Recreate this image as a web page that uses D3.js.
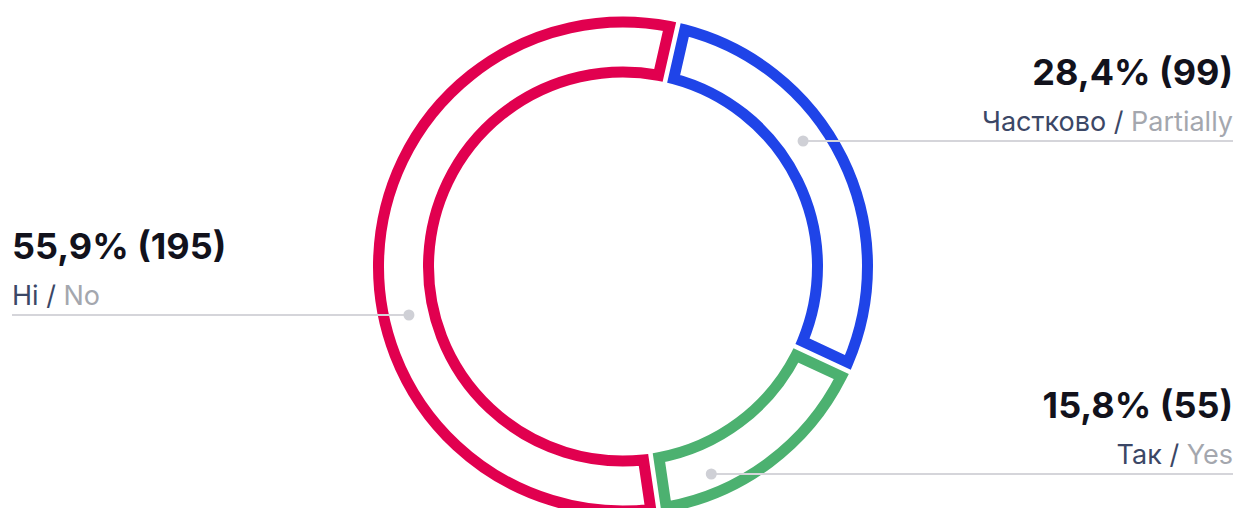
<!DOCTYPE html>
<html>
<head>
<meta charset="utf-8">
<script src="https://cdn.jsdelivr.net/npm/d3@7"></script>
<style>
  html, body { margin: 0; padding: 0; background: #fff; }
  svg { display: block; font-family: Inter, "Noto Sans", sans-serif; }
</style>
</head>
<body>
<div id="chart"></div>
<script>
// answers, in drawing order (clockwise from the top gap)
const labelsUa = ["Частково", "Так", "Hi"];
const labelsEn = ["Partially", "Yes", "No"];
const counts = [99, 55, 195];
const percents = ["28,4%", "15,8%", "55,9%"];
const colors = ["#1f44e8", "#4cb170", "#e1004f"];

const width = 1237, height = 508;
const cx = 623, cy = 266.5;
const rOuter = 244.5, rInner = 194.5;
const rMid = (rOuter + rInner) / 2;

// where each callout line sits, and on which side
const lineY = [141, 474, 315];
const side = ["right", "right", "left"];

const svg = d3.select("#chart").append("svg")
  .attr("width", width)
  .attr("height", height)
  .attr("viewBox", [0, 0, width, height]);

const data = counts.map((c, i) => ({
  count: c, pct: percents[i], ua: labelsUa[i], en: labelsEn[i], color: colors[i],
  y: lineY[i], side: side[i]
}));

const pie = d3.pie()
  .sort(null)
  .value(d => d.count)
  .startAngle(12.8 * Math.PI / 180)
  .endAngle(12.8 * Math.PI / 180 + 2 * Math.PI);

const arc = d3.arc()
  .innerRadius(rInner)
  .outerRadius(rOuter)
  .padAngle(0.05);

const g = svg.append("g")
  .attr("transform", `translate(${cx},${cy})`);

g.selectAll("path")
  .data(pie(data))
  .join("path")
    .attr("d", arc)
    .attr("fill", "none")
    .attr("stroke", d => d.data.color)
    .attr("stroke-width", 11);

// callouts
const callout = svg.append("g")
  .selectAll("g")
  .data(data)
  .join("g");

const dotX = d => {
  const dy = d.y - cy;
  const r = d.y > 450 ? rMid + 6 : rMid;
  const dx = Math.sqrt(Math.max(0, r * r - dy * dy));
  return d.side === "right" ? cx + dx : cx - dx;
};

callout.append("line")
  .attr("x1", d => d.side === "right" ? dotX(d) : 12)
  .attr("x2", d => d.side === "right" ? 1233 : dotX(d))
  .attr("y1", d => d.y)
  .attr("y2", d => d.y)
  .attr("stroke", "#d5d5da")
  .attr("stroke-width", 2);

callout.append("circle")
  .attr("cx", dotX)
  .attr("cy", d => d.y)
  .attr("r", 5.5)
  .attr("fill", "#cfd0d6");

callout.append("text")
  .attr("x", d => d.side === "right" ? 1233 : 12)
  .attr("y", d => d.y - 56)
  .attr("text-anchor", d => d.side === "right" ? "end" : "start")
  .attr("font-size", 36)
  .attr("font-weight", 700)
  .attr("fill", "#12121c")
  .text(d => `${d.pct} (${d.count})`);

const sub = callout.append("text")
  .attr("x", d => d.side === "right" ? 1233 : 12)
  .attr("y", d => d.y - 10)
  .attr("text-anchor", d => d.side === "right" ? "end" : "start")
  .attr("font-size", 27);

sub.append("tspan")
  .attr("fill", "#3b4766")
  .text(d => `${d.ua} / `);

sub.append("tspan")
  .attr("fill", "#a4a7ae")
  .text(d => d.en);
</script>
</body>
</html>
